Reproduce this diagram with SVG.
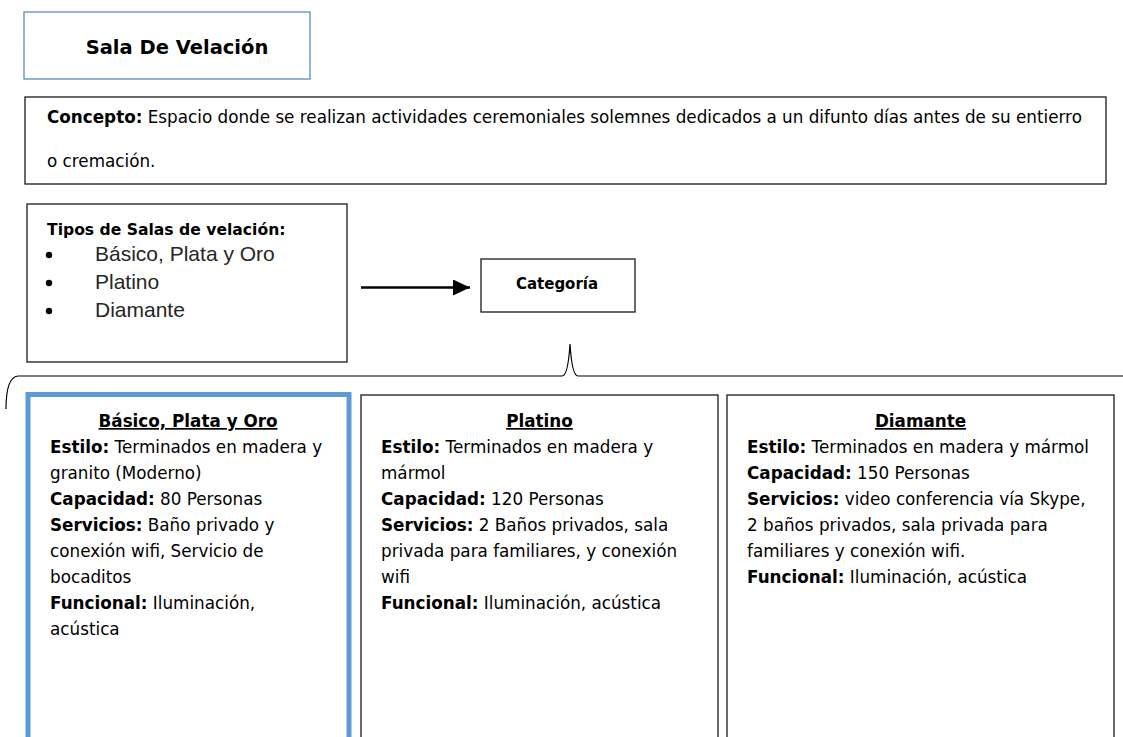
<svg xmlns="http://www.w3.org/2000/svg" width="1123" height="737" viewBox="0 0 1123 737">
<style>
  .box { fill: #ffffff; stroke: #1a1a1a; stroke-width: 1.3; }
  .t { font-family: "DejaVu Sans", "Liberation Sans", sans-serif; font-size: 16.8px; fill: #000; }
  .b { font-weight: bold; }
  .h { font-weight: bold; text-decoration: underline; text-anchor: middle; }
  .bul { font-family: "Liberation Sans", Arial, sans-serif; font-size: 21px; fill: #262626; }
  .conn { fill: none; stroke: #000; }
</style>
<defs>
  <marker id="arrowHead" markerWidth="17" markerHeight="16" refX="17" refY="8" orient="auto" markerUnits="userSpaceOnUse">
    <path d="M0,0 L17,8 L0,16 Z" fill="#000"/>
  </marker>
</defs>
<rect width="1123" height="737" fill="#ffffff"/>

<g id="title">
  <rect x="24" y="12" width="286" height="67" fill="#fff" stroke="#4f81bd" stroke-width="1.2"/>
  <text x="177" y="54" class="t b" text-anchor="middle" style="font-size:19.5px">Sala De Velación</text>
</g>

<g id="concepto">
  <rect x="25" y="97" width="1081" height="87" class="box"/>
  <text x="47" y="123" class="t"><tspan class="b">Concepto:</tspan> Espacio donde se realizan actividades ceremoniales solemnes dedicados a un difunto días antes de su entierro</text>
  <text x="47" y="167" class="t">o cremación.</text>
</g>

<g id="tipos">
  <rect x="27" y="204" width="320" height="158" class="box"/>
  <text x="47" y="235" class="t b" style="font-size:15.6px">Tipos de Salas de velación:</text>
  <circle cx="49" cy="255" r="3.2" fill="#000"/>
  <circle cx="49" cy="283" r="3.2" fill="#000"/>
  <circle cx="49" cy="311" r="3.2" fill="#000"/>
  <text x="95" y="261" class="bul">Básico, Plata y Oro</text>
  <text x="95" y="289" class="bul">Platino</text>
  <text x="95" y="317" class="bul">Diamante</text>
</g>

<g id="categoria">
  <rect x="481" y="259" width="154" height="53" class="box"/>
  <text x="557" y="289" class="t b" text-anchor="middle" style="font-size:15px">Categoría</text>
</g>

<g id="connectors">
  <line x1="361" y1="287.5" x2="470" y2="287.5" class="conn" stroke-width="2.6" marker-end="url(#arrowHead)"/>
  <path d="M6,409 C6,392 8,377 18,376 L562,376 Q568,376 570,344 Q572,376 578,376 L1123,376" class="conn" stroke-width="1.2"/>
</g>

<g id="basico">
  <rect x="28" y="394.5" width="321" height="360" fill="#fff" stroke="#5b9bd5" stroke-width="5"/>
  <text x="188" y="427" class="t h">Básico, Plata y Oro</text>
  <text x="50" y="453" class="t"><tspan class="b">Estilo:</tspan> Terminados en madera y</text>
  <text x="50" y="479" class="t">granito (Moderno)</text>
  <text x="50" y="505" class="t"><tspan class="b">Capacidad:</tspan> 80 Personas</text>
  <text x="50" y="531" class="t"><tspan class="b">Servicios:</tspan> Baño privado y</text>
  <text x="50" y="557" class="t">conexión wifi, Servicio de</text>
  <text x="50" y="583" class="t">bocaditos</text>
  <text x="50" y="609" class="t"><tspan class="b">Funcional:</tspan> Iluminación,</text>
  <text x="50" y="635" class="t">acústica</text>
</g>

<g id="platino">
  <rect x="361" y="395" width="357" height="360" class="box"/>
  <text x="539.5" y="427" class="t h">Platino</text>
  <text x="381" y="453" class="t"><tspan class="b">Estilo:</tspan> Terminados en madera y</text>
  <text x="381" y="479" class="t">mármol</text>
  <text x="381" y="505" class="t"><tspan class="b">Capacidad:</tspan> 120 Personas</text>
  <text x="381" y="531" class="t"><tspan class="b">Servicios:</tspan> 2 Baños privados, sala</text>
  <text x="381" y="557" class="t">privada para familiares, y conexión</text>
  <text x="381" y="583" class="t">wifi</text>
  <text x="381" y="609" class="t"><tspan class="b">Funcional:</tspan> Iluminación, acústica</text>
</g>

<g id="diamante">
  <rect x="727" y="395" width="387" height="360" class="box"/>
  <text x="920.5" y="427" class="t h">Diamante</text>
  <text x="747" y="453" class="t"><tspan class="b">Estilo:</tspan> Terminados en madera y mármol</text>
  <text x="747" y="479" class="t"><tspan class="b">Capacidad:</tspan> 150 Personas</text>
  <text x="747" y="505" class="t"><tspan class="b">Servicios:</tspan> video conferencia vía Skype,</text>
  <text x="747" y="531" class="t">2 baños privados, sala privada para</text>
  <text x="747" y="557" class="t">familiares y conexión wifi.</text>
  <text x="747" y="583" class="t"><tspan class="b">Funcional:</tspan> Iluminación, acústica</text>
</g>
</svg>
